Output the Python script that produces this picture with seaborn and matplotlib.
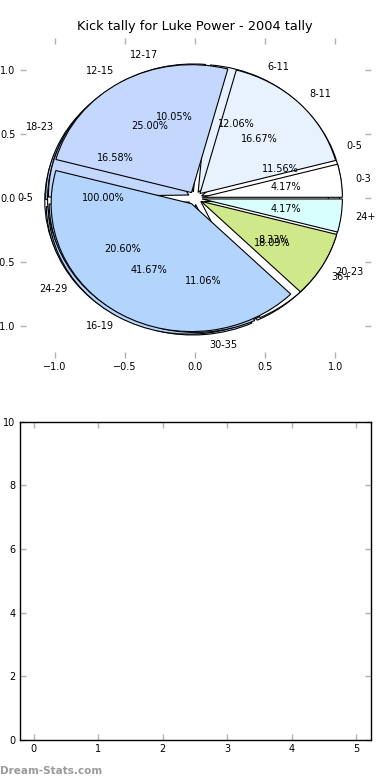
import matplotlib
matplotlib.use("Agg")
import matplotlib.pyplot as plt
import matplotlib.patches as mpatches
import seaborn as sns

# Kick tallies, three overlapping pies as in the original page
all_labels = ['0-5']
all_values = [1]

season_labels = ['0-5', '6-11', '12-17', '18-23', '24-29', '30-35', '36+']
season_values = [23, 24, 20, 33, 41, 22, 36]

tally_labels = ['0-3', '8-11', '12-15', '16-19', '20-23', '24+']
tally_values = [1, 4, 6, 10, 2, 1]

all_colors = ['#ffffff']
season_colors = ['#ffffff', '#e8f1fe', '#c4d8fe', '#c4d8fe', '#b3d4fc', '#b3d4fc', '#ffffff']
tally_colors = ['#ffffff', '#e8f1fe', '#c4d8fe', '#b3d4fc', '#cfe88a', '#d8fefe']

x_ticks = [0, 1, 2, 3, 4, 5]
y_ticks = [0, 2, 4, 6, 8, 10]

sns.set_theme(style='white')
plt.rcParams['font.family'] = ['DejaVu Sans']
plt.rcParams['text.color'] = 'black'

DPI = 100
tick_style = dict(direction='in', length=4, width=1, color='#b0b0b0',
                  labelsize=7, labelcolor='black', top=True, right=True,
                  bottom=True, left=True, pad=3)

fig = plt.figure(figsize=(3.9, 7.8), dpi=DPI)
ax_pie = fig.add_axes([0.05, 0.541, 0.9, 0.41])
ax_bar = fig.add_axes([0.05, 0.0513, 0.9, 0.408])


def draw_pie(ax, values, labels, colors):
    wedges, _, _ = ax.pie(values, labels=labels, colors=colors,
                          explode=[0.05] * len(values),
                          autopct='%1.2f%%', startangle=0,
                          wedgeprops=dict(edgecolor='black', linewidth=0.8),
                          textprops=dict(fontsize=7, color='black'))
    # old-style shadow: a copy of each wedge shifted down-left, behind all wedges
    off = -0.02 * 72 / DPI
    for w in wedges:
        ax.add_patch(mpatches.Shadow(w, off, off, facecolor=w.get_facecolor(),
                                     edgecolor='black', alpha=1,
                                     label='_nolegend_'))


draw_pie(ax_pie, all_values, all_labels, all_colors)
draw_pie(ax_pie, season_values, season_labels, season_colors)
draw_pie(ax_pie, tally_values, tally_labels, tally_colors)

ax_pie.set_aspect('auto')
ax_pie.set_xlim(-1.25, 1.25)
ax_pie.set_ylim(-1.25, 1.25)
ax_pie.set_frame_on(False)
ax_pie.set_xticks([-1.0, -0.5, 0.0, 0.5, 1.0])
ax_pie.set_yticks([-1.0, -0.5, 0.0, 0.5, 1.0])
ax_pie.tick_params(**tick_style)
ax_pie.set_title('Kick tally for Luke Power - 2004 tally', fontsize=9.3,
                 pad=6, color='black')

# empty lower panel
ax_bar.set_xlim(-0.22, 5.22)
ax_bar.set_ylim(0, 10)
ax_bar.set_xticks(x_ticks)
ax_bar.set_yticks(y_ticks)
ax_bar.tick_params(**tick_style)
for s in ax_bar.spines.values():
    s.set_visible(True)
    s.set_color('black')
    s.set_linewidth(1)

fig.text(0.0, 0.005, 'Dream-Stats.com', fontsize=7.5, color='#9a9a9a',
         fontweight='bold', ha='left', va='bottom')

fig.savefig('out.png', dpi=DPI)
